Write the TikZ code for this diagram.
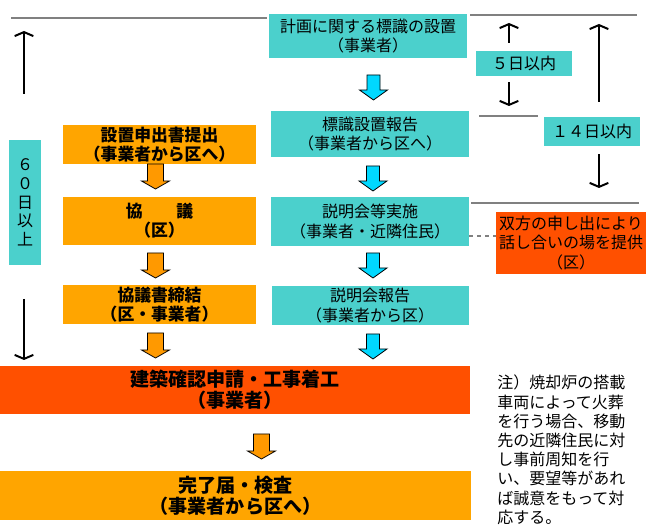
\documentclass[tikz,border=0pt]{standalone}
\usepackage{fontspec}
\setmainfont{Noto Sans CJK JP}
\usetikzlibrary{arrows.meta}
\definecolor{boxcyan}{RGB}{75,208,204}
\definecolor{boxorange}{RGB}{255,165,0}
\definecolor{boxred}{RGB}{255,80,0}
\definecolor{arrowcyan}{RGB}{0,216,255}
\definecolor{arroworange}{RGB}{255,153,0}
\definecolor{linegray}{RGB}{128,128,128}

\begin{document}
\begin{tikzpicture}[x=0.75pt,y=-0.75pt,
        sz/.style 2 args={minimum width=#1*0.75pt,minimum height=#2*0.75pt},
        box/.style={inner sep=0pt,align=center,font=\fontsize{12}{14.5}\selectfont},
        cyanbox/.style={box,fill=boxcyan},
        orangebox/.style={box,fill=boxorange,font=\fontsize{12.6}{14.5}\selectfont\bfseries},
        bigbox/.style={font=\fontsize{14.3}{16}\selectfont\bfseries},
        redbox/.style={box,fill=boxred,font=\fontsize{12.6}{14.5}\selectfont\bfseries},
        guide/.style={draw=linegray,line width=1.5pt},
        span/.style={line width=1.5pt,-{Straight Barb[width=14pt,length=3pt]}},
        cyanarrow/.style={fill=arrowcyan,draw=black,line width=0.6pt},
        orangearrow/.style={fill=arroworange,draw=black,line width=0.6pt}]
            \useasboundingbox[fill=white] (0,0) rectangle (660,530);

            % middle column
            \node[cyanbox,sz={198}{44}] (plan) at (368,36) {計画に関する標識の設置\\（事業者）};
            \node[cyanbox,sz={198}{46}] (signrep) at (370,134) {標識設置報告\\（事業者から区へ）};
            \node[cyanbox,sz={198}{49}] (brief) at (370,221.5) {説明会等実施\\（事業者・近隣住民）};
            \node[cyanbox,sz={197}{39}] (briefrep) at (370,305.5) {説明会報告\\（事業者から区）};

            % left column
            \node[orangebox,sz={193}{39}] (apply) at (159.5,144.5) {設置申出書提出\\（事業者から区へ）};
            \node[orangebox,sz={193}{48}] (consult) at (159.5,221) {協　　議\\（区）};
            \node[orangebox,sz={193}{39}] (agree) at (159.5,304.5) {協議書締結\\（区・事業者）};
            \node[cyanbox,sz={32}{125},font=\fontsize{12}{14}\selectfont] (days60) at (25,202.5) {６\\０\\日\\以\\上};

            % bottom
            \node[redbox,bigbox,sz={470}{48}] (build) at (235,390) {建築確認申請・工事着工\\（事業者）};
            \node[orangebox,bigbox,sz={471}{49}] (finish) at (235.5,495.5) {完了届・検査\\（事業者から区へ）};

            % right side
            \node[cyanbox,sz={96}{25}] (days5) at (524,63.5) {５日以内};
            \node[cyanbox,sz={96}{29}] (days14) at (592,131.5) {１４日以内};
            \node[box,fill=boxred,sz={150}{62}] (mediate) at (571,243) {双方の申し出により\\話し合いの場を提供\\（区）};
            \node[anchor=north west,inner sep=0pt,align=left,font=\fontsize{12}{14.4}\selectfont] (note) at (497,375)
                {注）焼却炉の搭載\\車両によって火葬\\を行う場合、移動\\先の近隣住民に対\\し事前周知を行\\い、要望等があれ\\ば誠意をもって対\\応する。};

            % guide lines
            \draw[guide] (11,18) -- (267,18);
            \draw[guide] (470,15) -- (637,15);
            \draw[guide] (479,116) -- (538,116);
            \draw[guide] (471,203) -- (639,203);
            \coordinate (dash) at (0,236);
            \draw[guide,dashed,line width=1.2pt] (brief.east |- dash) -- (mediate.west |- dash);

            % spans
            \coordinate (l60top) at (24,31);
            \coordinate (l60bot) at (24,360);
            \draw[span] (24,94) -- (l60top);
            \draw[span] (24,299) -- (l60bot);
            \coordinate (t5top) at (509,23);
            \coordinate (t5bot) at (509,106);
            \draw[span] (days5.north -| t5top) ++(0,-8) -- (t5top);
            \draw[span] (days5.south -| t5bot) ++(0,6) -- (t5bot);
            \coordinate (t14top) at (599,24);
            \coordinate (t14bot) at (599,188);
            \draw[span] (days14.north -| t14top) ++(0,-15) -- (t14top);
            \draw[span] (days14.south -| t14bot) ++(0,8) -- (t14bot);

            % block arrows
            \foreach \x/\y in {373.5/75, 373/166, 373/253, 373/334}{
                \draw[cyanarrow] (\x-6.5,\y) -- (\x+6.5,\y) -- (\x+6.5,\y+15) -- (\x+14,\y+15)
                    -- (\x,\y+25) -- (\x-14,\y+15) -- (\x-6.5,\y+15) -- cycle;
            }
            \foreach \x/\y in {155.5/164, 155.5/253, 155.5/333, 261.5/434}{
                \draw[orangearrow] (\x-8,\y) -- (\x+8,\y) -- (\x+8,\y+17) -- (\x+14,\y+17)
                    -- (\x,\y+25) -- (\x-14,\y+17) -- (\x-8,\y+17) -- cycle;
            }
        \end{tikzpicture}
\end{document}
